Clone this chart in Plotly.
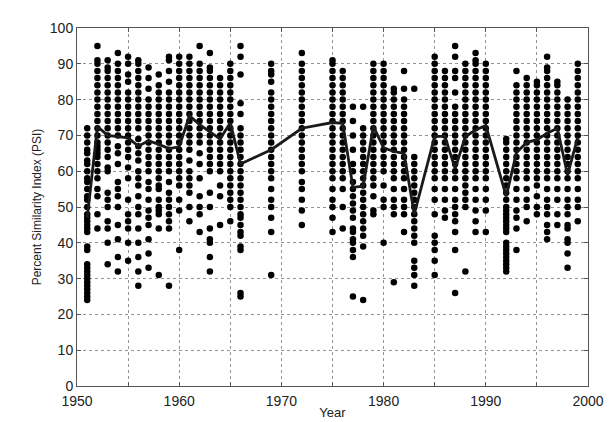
import plotly.graph_objects as go

# Years that have PSI samples
years = [1951, 1952, 1953, 1954, 1955, 1956, 1957, 1958, 1959, 1960,
         1961, 1962, 1963, 1964, 1965, 1966, 1969, 1972, 1975, 1976,
         1977, 1978, 1979, 1980, 1981, 1982, 1983, 1985, 1986, 1987,
         1988, 1989, 1990, 1992, 1993, 1994, 1995, 1996, 1997, 1998, 1999]

# Individual PSI values per year
psi_by_year = [
    [24, 25, 26, 27, 28, 29, 30, 31, 32, 33, 34, 38, 39, 43, 44, 45, 46, 47, 48, 50, 52, 53, 55, 57, 58, 60, 62, 63, 65, 66, 68, 70, 72],
    [44, 48, 53, 55, 58, 60, 62, 64, 65, 66, 67, 68, 70, 72, 74, 76, 78, 80, 82, 84, 86, 88, 90, 91, 95],
    [34, 40, 44, 46, 50, 52, 54, 60, 61, 64, 66, 68, 70, 72, 74, 76, 78, 80, 82, 84, 86, 88, 89, 91],
    [32, 36, 41, 45, 50, 53, 55, 57, 62, 65, 67, 70, 72, 74, 76, 78, 80, 82, 84, 86, 88, 90, 93],
    [35, 40, 44, 46, 48, 52, 58, 61, 64, 66, 68, 70, 72, 74, 76, 78, 80, 82, 85, 87, 90, 92],
    [28, 32, 36, 40, 44, 48, 50, 53, 56, 58, 60, 63, 65, 67, 69, 72, 74, 76, 78, 80, 82, 84, 86, 88, 90, 91],
    [33, 37, 41, 45, 47, 49, 52, 55, 57, 60, 62, 64, 66, 68, 70, 72, 74, 76, 78, 80, 83, 86, 89],
    [31, 44, 48, 49, 50, 52, 55, 56, 58, 60, 62, 64, 66, 68, 70, 72, 74, 76, 78, 80, 82, 84, 87],
    [28, 44, 46, 48, 50, 52, 54, 57, 60, 62, 64, 66, 68, 70, 72, 74, 76, 78, 80, 82, 85, 88, 91, 92],
    [38, 49, 52, 56, 58, 60, 62, 64, 66, 68, 70, 72, 74, 76, 78, 80, 82, 84, 86, 88, 90, 92],
    [46, 50, 54, 56, 58, 60, 63, 66, 68, 70, 72, 74, 76, 78, 80, 82, 84, 86, 88, 90, 92],
    [43, 48, 50, 53, 58, 62, 65, 68, 70, 72, 74, 76, 78, 80, 82, 84, 86, 88, 90, 95],
    [32, 36, 40, 41, 44, 50, 54, 60, 62, 64, 66, 68, 70, 72, 74, 76, 78, 80, 82, 84, 86, 88, 89, 93],
    [45, 53, 56, 60, 62, 64, 66, 68, 70, 72, 74, 76, 78, 80, 82, 84, 86],
    [46, 50, 52, 54, 56, 58, 60, 62, 64, 66, 68, 70, 72, 74, 76, 78, 80, 82, 84, 86, 88, 90],
    [25, 26, 38, 39, 42, 43, 45, 47, 48, 50, 52, 54, 56, 58, 60, 62, 64, 66, 68, 70, 72, 76, 79, 87, 92, 95],
    [31, 43, 47, 50, 52, 55, 58, 60, 62, 64, 66, 68, 70, 72, 74, 76, 78, 80, 82, 85, 87, 88, 90],
    [45, 49, 52, 55, 57, 60, 62, 64, 66, 68, 70, 72, 74, 76, 78, 80, 82, 84, 86, 88, 90, 93],
    [43, 47, 50, 52, 55, 58, 60, 62, 64, 66, 68, 70, 72, 74, 76, 78, 80, 82, 84, 86, 88, 90, 91],
    [44, 50, 55, 58, 60, 62, 64, 66, 68, 70, 72, 74, 76, 78, 80, 82, 84, 86, 88],
    [25, 36, 38, 40, 41, 43, 44, 47, 49, 51, 53, 55, 57, 60, 62, 66, 70, 74, 78],
    [24, 39, 42, 44, 46, 48, 50, 52, 54, 56, 58, 60, 62, 64, 66, 68, 70, 72, 78],
    [48, 49, 53, 56, 58, 60, 62, 64, 66, 68, 70, 72, 74, 76, 78, 80, 82, 84, 86, 88, 90],
    [40, 50, 52, 56, 60, 62, 64, 66, 68, 70, 72, 74, 76, 78, 80, 82, 84, 86, 88, 90],
    [29, 48, 50, 52, 55, 58, 60, 62, 64, 66, 68, 70, 72, 74, 76, 78, 80, 82, 83],
    [43, 48, 50, 52, 55, 58, 60, 62, 64, 66, 68, 70, 72, 74, 76, 78, 80, 83, 88],
    [28, 31, 33, 35, 40, 42, 44, 46, 48, 50, 52, 54, 56, 58, 60, 62, 64, 83],
    [31, 35, 38, 40, 42, 48, 52, 55, 58, 60, 62, 64, 66, 68, 70, 72, 74, 76, 78, 80, 82, 84, 86, 88, 90, 92],
    [47, 49, 52, 55, 58, 60, 62, 64, 66, 68, 70, 72, 74, 76, 78, 80, 82, 84, 86, 88],
    [26, 38, 43, 46, 48, 50, 52, 55, 58, 60, 62, 64, 66, 68, 70, 72, 74, 76, 78, 82, 86, 88, 92, 95],
    [32, 50, 52, 54, 56, 58, 60, 62, 64, 66, 68, 70, 72, 74, 76, 78, 80, 82, 84, 86, 88, 90],
    [43, 46, 49, 52, 55, 58, 60, 62, 64, 66, 68, 70, 72, 74, 76, 78, 80, 82, 84, 86, 88, 90, 91, 93],
    [43, 49, 52, 55, 58, 60, 62, 64, 66, 68, 70, 72, 74, 76, 78, 80, 82, 84, 86, 88, 90],
    [32, 33, 34, 35, 36, 37, 38, 39, 40, 43, 44, 45, 46, 47, 48, 49, 50, 52, 54, 56, 58, 60, 62, 64, 66, 68, 69],
    [38, 44, 47, 49, 52, 55, 58, 60, 62, 64, 66, 68, 70, 72, 74, 76, 78, 80, 82, 84, 88],
    [46, 50, 52, 55, 58, 60, 62, 64, 66, 68, 70, 72, 74, 76, 78, 80, 82, 84, 86],
    [48, 50, 53, 56, 58, 60, 62, 64, 66, 68, 70, 72, 74, 76, 78, 80, 82, 84, 85],
    [41, 43, 45, 48, 50, 52, 55, 58, 60, 62, 64, 66, 68, 70, 72, 74, 76, 78, 80, 82, 84, 86, 88, 89, 92],
    [45, 48, 52, 55, 58, 60, 62, 64, 66, 68, 70, 72, 74, 76, 78, 80, 82, 84, 85],
    [33, 37, 40, 41, 44, 45, 48, 50, 52, 55, 58, 60, 62, 64, 66, 68, 70, 72, 74, 76, 78, 80],
    [46, 50, 52, 55, 58, 60, 62, 64, 66, 68, 70, 72, 74, 76, 78, 80, 82, 84, 86, 88, 90],
]

# Yearly mean PSI line
mean_psi = [47, 72.5, 70, 69.7, 69.3, 67, 68.5, 67.5, 66.3, 66.8,
            75.5, 73, 71, 69, 73.5, 62, 66, 72, 73.6, 73.4,
            55.5, 55.8, 72.5, 66.5, 65.5, 65, 48, 69.7, 69.7, 60.7,
            69.7, 71.5, 72.8, 53, 65.2, 68, 68.8, 70.6, 72, 59, 69.5]

x_ticks = list(range(1950, 2001, 5))
x_labels = [str(v) if v % 10 == 0 else "" for v in x_ticks]
y_ticks = list(range(0, 101, 10))

dot_x = []
dot_y = []
for yr, vals in zip(years, psi_by_year):
    dot_x.extend([yr] * len(vals))
    dot_y.extend(vals)

FONT = "Liberation Sans, Arial, Helvetica, sans-serif"

fig = go.Figure()
fig.add_trace(go.Scatter(x=dot_x, y=dot_y, mode="markers",
                         marker=dict(color="black", size=6.5, symbol="circle"),
                         showlegend=False, hoverinfo="skip"))
fig.add_trace(go.Scatter(x=years, y=mean_psi, mode="lines",
                         line=dict(color="#1a1a1a", width=2.8),
                         showlegend=False))

axis_common = dict(
    showline=True, linecolor="#555", linewidth=1, mirror="ticks",
    ticks="inside", ticklen=4, tickcolor="#555",
    showgrid=True, gridcolor="rgba(0,0,0,0.42)", griddash="dot", gridwidth=1,
    zeroline=False,
    tickfont=dict(family=FONT, size=14, color="#222"),
)

fig.update_xaxes(range=[1950, 2000], tickvals=x_ticks, ticktext=x_labels,
                 ticklabelstandoff=2,
                 title=dict(text="Year", standoff=0,
                            font=dict(family=FONT, size=13, color="#222")),
                 **axis_common)
fig.update_yaxes(range=[0, 100], tickvals=y_ticks,
                 title=dict(text="Percent Similarity Index (PSI)", standoff=5,
                            font=dict(family=FONT, size=12, color="#222")),
                 **axis_common)

fig.update_layout(width=614, height=422,
                  margin=dict(l=69, r=34, t=14, b=37),
                  plot_bgcolor="white", paper_bgcolor="white")

fig.write_html("out.html")
